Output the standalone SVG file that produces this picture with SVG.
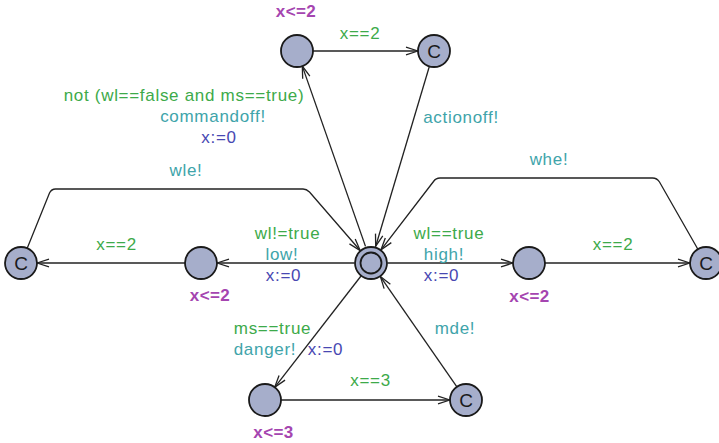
<svg xmlns="http://www.w3.org/2000/svg" width="719" height="443" viewBox="0 0 719 443">
<style>
text{font-family:"Liberation Sans",Arial,sans-serif;font-size:17px;letter-spacing:0.7px;text-anchor:middle}
.g{fill:#3daa4a}.s{fill:#40a4aa}.a{fill:#4848b2}.i{fill:#a545b0;font-weight:bold;letter-spacing:0.4px}
.n{fill:#a6aecb;stroke:#1a1a1a;stroke-width:1.8}
.c{fill:#1a1a1a;font-size:19px;letter-spacing:0}
.e{fill:none;stroke:#222;stroke-width:1.3;marker-end:url(#arr)}
</style>
<defs>
<marker id="arr" viewBox="-14 -6 15 12" markerWidth="15" markerHeight="12" refX="0" refY="0" orient="auto" markerUnits="userSpaceOnUse">
<path d="M-12,-3.8 L0,0 L-12,3.8" fill="none" stroke="#222" stroke-width="1.3"/>
</marker>
</defs>
<g id="edges">
<path class="e" d="M365.5,246.4 L302.3,66.1"/>
<path class="e" d="M313,51 L418,51"/>
<path class="e" d="M429.4,66.3 L375.7,246.2"/>
<path class="e" d="M354.5,263 L217,263"/>
<path class="e" d="M185,263 L37,263"/>
<path class="e" d="M27.2,248.2 L49.5,193 Q51.5,189 55.5,189 L303,189 Q306.5,189 309.5,192 L360.2,250.5"/>
<path class="e" d="M387.5,263 L513,263"/>
<path class="e" d="M545,263 L690,263"/>
<path class="e" d="M697.9,249.2 L659.5,182 Q657,178 652.5,178 L440,178 Q436,178 433.5,181.5 L381,249.8"/>
<path class="e" d="M361,276 L274.7,387.3"/>
<path class="e" d="M281,400 L450,400"/>
<path class="e" d="M456.9,386.8 L380.4,276.6"/>
</g>
<g id="labels">
<text class="g" x="360" y="39">x==2</text>
<text class="g" x="184" y="101">not (wl==false and ms==true)</text>
<text class="s" x="213" y="122">commandoff!</text>
<text class="a" x="219" y="143">x:=0</text>
<text class="s" x="186" y="175.5">wle!</text>
<text class="s" x="461" y="122.5">actionoff!</text>
<text class="s" x="549" y="165">whe!</text>
<text class="g" x="116.5" y="249.5">x==2</text>
<text class="g" x="287.5" y="238.5">wl!=true</text>
<text class="s" x="282" y="260">low!</text>
<text class="a" x="283.5" y="281">x:=0</text>
<text class="g" x="449" y="238.5">wl==true</text>
<text class="s" x="444" y="260">high!</text>
<text class="a" x="441.5" y="281">x:=0</text>
<text class="g" x="613" y="249.5">x==2</text>
<text class="g" x="272.5" y="334">ms==true</text>
<text class="s" x="265" y="355">danger!</text>
<text class="a" x="325.5" y="355">x:=0</text>
<text class="s" x="455" y="333.5">mde!</text>
<text class="g" x="370.5" y="386">x==3</text>
</g>
<g id="n_center"><circle class="n" cx="371" cy="263" r="16"/><circle class="n" cx="371" cy="263" r="10.5"/></g>
<g id="n_top"><circle class="n" cx="297" cy="51" r="16"/><text class="i" x="296" y="17">x&lt;=2</text></g>
<g id="n_topC"><circle class="n" cx="434" cy="51" r="16"/><text class="c" x="434" y="58">C</text></g>
<g id="n_left"><circle class="n" cx="201" cy="263" r="16"/><text class="i" x="210" y="301">x&lt;=2</text></g>
<g id="n_leftC"><circle class="n" cx="21" cy="263" r="16"/><text class="c" x="21" y="270">C</text></g>
<g id="n_right"><circle class="n" cx="529" cy="263" r="16"/><text class="i" x="529.5" y="301.5">x&lt;=2</text></g>
<g id="n_rightC"><circle class="n" cx="706" cy="263" r="16"/><text class="c" x="706" y="270">C</text></g>
<g id="n_bottom"><circle class="n" cx="265" cy="400" r="16"/><text class="i" x="273.5" y="438">x&lt;=3</text></g>
<g id="n_bottomC"><circle class="n" cx="466" cy="400" r="16"/><text class="c" x="466" y="407">C</text></g>
</svg>
